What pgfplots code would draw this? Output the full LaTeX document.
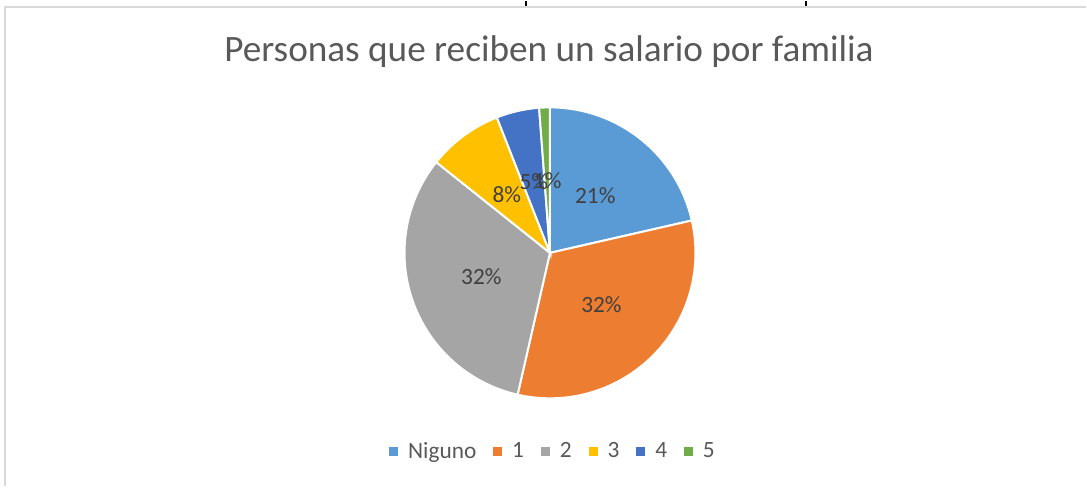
\documentclass[border=0pt]{standalone}
\usepackage{pgfplots}
\pgfplotsset{compat=1.18}
\usepackage{fontspec}
\setmainfont{Carlito}
\definecolor{c1}{HTML}{5B9BD5}
\definecolor{c2}{HTML}{ED7D31}
\definecolor{c3}{HTML}{A5A5A5}
\definecolor{c4}{HTML}{FFC000}
\definecolor{c5}{HTML}{4472C4}
\definecolor{c6}{HTML}{70AD47}
\definecolor{titlegray}{HTML}{595959}
\definecolor{labelgray}{HTML}{404040}
\definecolor{bordergray}{HTML}{D9D9D9}
% counts per category: Niguno, 1, 2, 3, 4, 5
\def\vA{18}\def\vB{27}\def\vC{27}\def\vD{7}\def\vE{4}\def\vF{1}
\begin{document}
\begin{tikzpicture}
\pgfmathsetmacro{\tot}{\vA+\vB+\vC+\vD+\vE+\vF}
\pgfmathsetmacro{\aA}{90}
\pgfmathsetmacro{\aB}{\aA-360*\vA/\tot}
\pgfmathsetmacro{\aC}{\aB-360*\vB/\tot}
\pgfmathsetmacro{\aD}{\aC-360*\vC/\tot}
\pgfmathsetmacro{\aE}{\aD-360*\vD/\tot}
\pgfmathsetmacro{\aF}{\aE-360*\vE/\tot}
\pgfmathsetmacro{\aG}{\aF-360*\vF/\tot}
\def\cx{552}\def\cy{234}\def\R{146}\def\rl{73}
\pgfmathsetmacro{\xA}{\cx+\rl*cos((\aA+\aB)/2)}\pgfmathsetmacro{\yA}{\cy+\rl*sin((\aA+\aB)/2)}
\pgfmathsetmacro{\xB}{\cx+\rl*cos((\aB+\aC)/2)}\pgfmathsetmacro{\yB}{\cy+\rl*sin((\aB+\aC)/2)}
\pgfmathsetmacro{\xC}{\cx+\rl*cos((\aC+\aD)/2)}\pgfmathsetmacro{\yC}{\cy+\rl*sin((\aC+\aD)/2)}
\pgfmathsetmacro{\xD}{\cx+\rl*cos((\aD+\aE)/2)}\pgfmathsetmacro{\yD}{\cy+\rl*sin((\aD+\aE)/2)}
\pgfmathsetmacro{\xE}{\cx+\rl*cos((\aE+\aF)/2)}\pgfmathsetmacro{\yE}{\cy+\rl*sin((\aE+\aF)/2)}
\pgfmathsetmacro{\xF}{\cx+\rl*cos((\aF+\aG)/2)}\pgfmathsetmacro{\yF}{\cy+\rl*sin((\aF+\aG)/2)}
\pgfmathtruncatemacro{\pA}{round(100*\vA/\tot)}
\pgfmathtruncatemacro{\pB}{round(100*\vB/\tot)}
\pgfmathtruncatemacro{\pC}{round(100*\vC/\tot)}
\pgfmathtruncatemacro{\pD}{round(100*\vD/\tot)}
\pgfmathtruncatemacro{\pE}{round(100*\vE/\tot)}
\pgfmathtruncatemacro{\pF}{round(100*\vF/\tot)}
\begin{axis}[
  width=1087bp, height=487bp, scale only axis,
  xmin=0, xmax=1087, ymin=0, ymax=487,
  hide axis, clip=false,
  legend columns=6,
  legend style={draw=none, fill=none, at={(axis description cs:0.5106,0.0719)}, anchor=center,
    font=\fontsize{23.5}{27}\selectfont, text=titlegray,
    /tikz/every odd column/.append style={column sep=8bp},
    /tikz/every even column/.append style={column sep=15bp},
    inner sep=0pt, row sep=0pt},
  legend image code/.code={\fill[#1,draw=none] (0bp,-4.5bp) rectangle (9bp,4.5bp);},
]
\path (axis cs:0,0) rectangle (axis cs:1087,487);
\draw[bordergray, line width=2bp] (axis cs:5,0) -- (axis cs:5,481) -- (axis cs:1090,481);
\draw[black, line width=1.6bp] (axis cs:528,487) -- (axis cs:528,482);
\draw[black, line width=1.6bp] (axis cs:809,487) -- (axis cs:809,482);
\node[text=titlegray, font=\fontsize{37.5}{42}\selectfont] at (axis cs:551,436) {Personas que reciben un salario por familia};
\addplot[fill=c1, draw=white, line width=2bp, domain=\aB:\aA, samples=80, variable=\t] ({\cx+\R*cos(t)},{\cy+\R*sin(t)}) -- (axis cs:\cx,\cy) -- cycle;
\addlegendentry{Niguno}
\addplot[fill=c2, draw=white, line width=2bp, domain=\aC:\aB, samples=80, variable=\t] ({\cx+\R*cos(t)},{\cy+\R*sin(t)}) -- (axis cs:\cx,\cy) -- cycle;
\addlegendentry{1}
\addplot[fill=c3, draw=white, line width=2bp, domain=\aD:\aC, samples=80, variable=\t] ({\cx+\R*cos(t)},{\cy+\R*sin(t)}) -- (axis cs:\cx,\cy) -- cycle;
\addlegendentry{2}
\addplot[fill=c4, draw=white, line width=2bp, domain=\aE:\aD, samples=40, variable=\t] ({\cx+\R*cos(t)},{\cy+\R*sin(t)}) -- (axis cs:\cx,\cy) -- cycle;
\addlegendentry{3}
\addplot[fill=c5, draw=white, line width=2bp, domain=\aF:\aE, samples=30, variable=\t] ({\cx+\R*cos(t)},{\cy+\R*sin(t)}) -- (axis cs:\cx,\cy) -- cycle;
\addlegendentry{4}
\addplot[fill=c6, draw=white, line width=2bp, domain=\aG:\aF, samples=10, variable=\t] ({\cx+\R*cos(t)},{\cy+\R*sin(t)}) -- (axis cs:\cx,\cy) -- cycle;
\addlegendentry{5}
\node[text=labelgray, font=\fontsize{23.5}{27}\selectfont] at (axis cs:\xA,\yA) {\pA\%};
\node[text=labelgray, font=\fontsize{23.5}{27}\selectfont] at (axis cs:\xB,\yB) {\pB\%};
\node[text=labelgray, font=\fontsize{23.5}{27}\selectfont] at (axis cs:\xC,\yC) {\pC\%};
\node[text=labelgray, font=\fontsize{23.5}{27}\selectfont] at (axis cs:\xD,\yD) {\pD\%};
\node[text=labelgray, font=\fontsize{23.5}{27}\selectfont] at (axis cs:\xE,\yE) {\pE\%};
\node[text=labelgray, font=\fontsize{23.5}{27}\selectfont] at (axis cs:\xF,\yF) {\pF\%};
\end{axis}
\end{tikzpicture}
\end{document}
